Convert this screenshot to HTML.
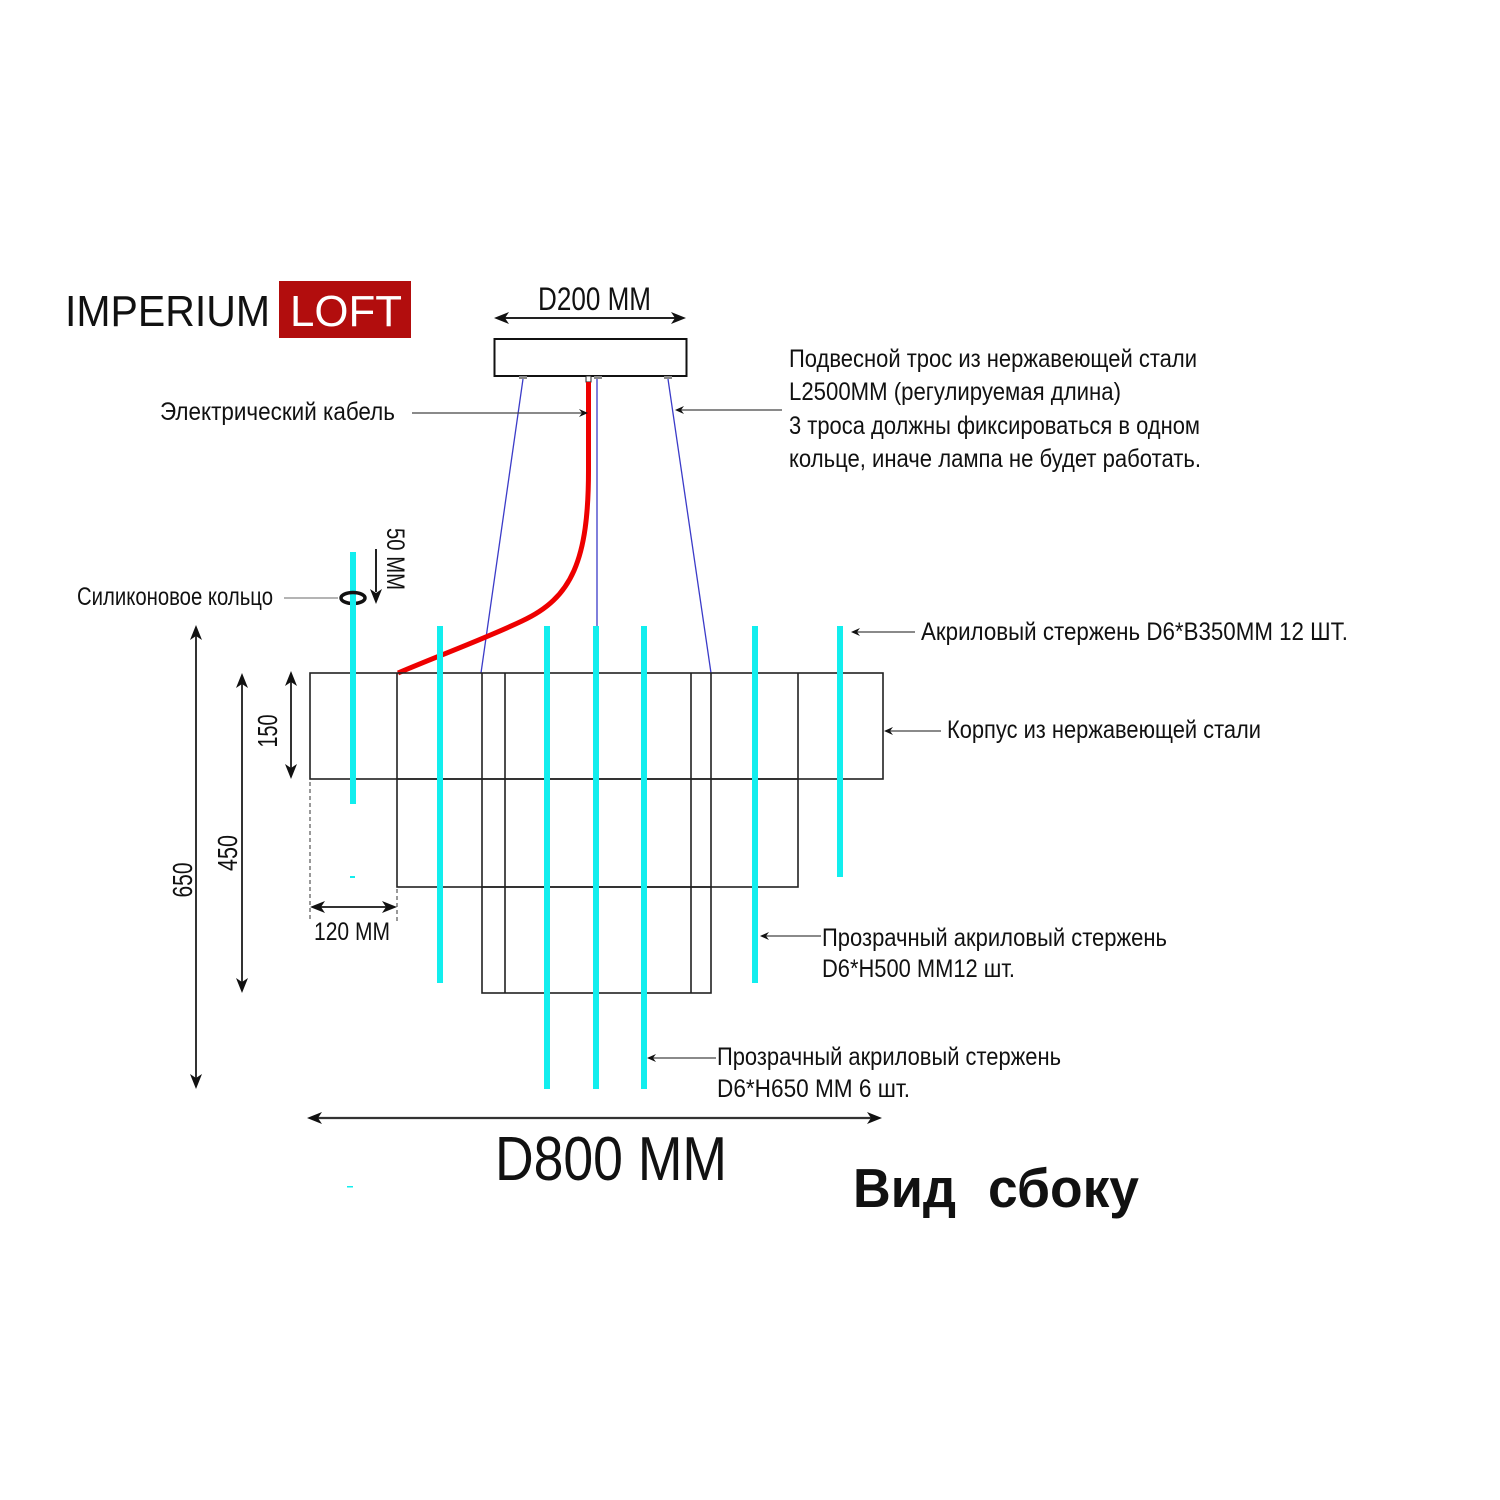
<!DOCTYPE html>
<html>
<head>
<meta charset="utf-8">
<style>
html,body{margin:0;padding:0;background:#fff;}
svg{display:block;}
text{font-family:"Liberation Sans","DejaVu Sans",sans-serif;fill:#111;}
</style>
</head>
<body>
<svg width="1500" height="1500" viewBox="0 0 1500 1500" xmlns="http://www.w3.org/2000/svg">
<rect x="0" y="0" width="1500" height="1500" fill="#fff"/>

<!-- Logo -->
<text x="65" y="326" font-size="44" textLength="205" lengthAdjust="spacingAndGlyphs">IMPERIUM</text>
<rect x="279" y="281" width="132" height="57" fill="#b20d0d"/>
<text x="290" y="326" font-size="44" textLength="112" lengthAdjust="spacingAndGlyphs" style="fill:#fff">LOFT</text>

<!-- D200 -->
<text x="538" y="310" font-size="32" textLength="113" lengthAdjust="spacingAndGlyphs">D200 MM</text>
<line x1="500" y1="318" x2="680" y2="318" stroke="#222" stroke-width="2"/>
<polygon points="494,318 509,312 505,318 509,324" fill="#111"/>
<polygon points="686,318 671,312 675,318 671,324" fill="#111"/>

<!-- Canopy -->
<rect x="494.5" y="339" width="192" height="37" fill="#fff" stroke="#111" stroke-width="2"/>
<rect x="519" y="376" width="8" height="3" fill="#888"/>
<rect x="594" y="376" width="8" height="3" fill="#888"/>
<rect x="664" y="376" width="8" height="3" fill="#888"/>
<rect x="586" y="376" width="5" height="6" fill="#fff" stroke="#222" stroke-width="1"/>

<!-- Blue wires -->
<line x1="523" y1="379" x2="481" y2="673" stroke="#3b3bc8" stroke-width="1.3"/>
<line x1="597" y1="379" x2="597" y2="626" stroke="#3b3bc8" stroke-width="1.3"/>
<line x1="668" y1="379" x2="711" y2="673" stroke="#3b3bc8" stroke-width="1.3"/>

<!-- Red cable -->
<path d="M588.5,382 L588.5,470 C588.5,560 572,598 522,621 C482,640 440,655 398,673" fill="none" stroke="#ee0000" stroke-width="5"/>

<!-- Top texts -->
<text x="160" y="420" font-size="25" textLength="235" lengthAdjust="spacingAndGlyphs">Электрический  кабель</text>
<line x1="412" y1="413" x2="582" y2="413" stroke="#444" stroke-width="1.3"/>
<polygon points="588,413 579,409 582,413 579,417" fill="#111"/>

<text x="789" y="367" font-size="25" textLength="408" lengthAdjust="spacingAndGlyphs">Подвесной трос из нержавеющей стали</text>
<text x="789" y="400" font-size="25" textLength="332" lengthAdjust="spacingAndGlyphs">L2500MM (регулируемая длина)</text>
<text x="789" y="434" font-size="25" textLength="411" lengthAdjust="spacingAndGlyphs">3 троса должны фиксироваться в одном</text>
<text x="789" y="467" font-size="25" textLength="412" lengthAdjust="spacingAndGlyphs">кольце, иначе лампа не будет работать.</text>
<line x1="681" y1="410" x2="782" y2="410" stroke="#444" stroke-width="1.3"/>
<polygon points="675,410 684,406 681,410 684,414" fill="#111"/>

<!-- Silicone ring -->
<text x="77" y="605" font-size="25" textLength="196" lengthAdjust="spacingAndGlyphs">Силиконовое кольцо</text>
<line x1="284" y1="598" x2="338" y2="598" stroke="#888" stroke-width="1.3"/>

<!-- 50 MM -->
<line x1="376" y1="549" x2="376" y2="592" stroke="#222" stroke-width="2"/>
<polygon points="376,604 370,589 376,593 382,589" fill="#111"/>
<text transform="translate(387,559) rotate(90)" x="0" y="0" font-size="25" text-anchor="middle" textLength="62" lengthAdjust="spacingAndGlyphs">50 MM</text>

<!-- Frame boxes -->
<g fill="none" stroke="#222" stroke-width="1.6">
<rect x="310" y="673" width="573" height="106"/>
<rect x="397" y="779" width="401" height="108"/>
<rect x="482" y="887" width="229" height="106"/>
<line x1="397" y1="673" x2="397" y2="779"/>
<line x1="798" y1="673" x2="798" y2="779"/>
<line x1="482" y1="673" x2="482" y2="887"/>
<line x1="505" y1="673" x2="505" y2="993"/>
<line x1="691" y1="673" x2="691" y2="993"/>
<line x1="711" y1="673" x2="711" y2="887"/>
</g>
<!-- dashed guides -->
<line x1="310" y1="782" x2="310" y2="920" stroke="#333" stroke-width="1" stroke-dasharray="4,3"/>
<line x1="397" y1="889" x2="397" y2="922" stroke="#333" stroke-width="1" stroke-dasharray="4,3"/>

<!-- Cyan rods -->
<g fill="#12eeee">
<rect x="350" y="552" width="6" height="252"/>
<rect x="437" y="626" width="6" height="357"/>
<rect x="544" y="626" width="6" height="463"/>
<rect x="593" y="626" width="6" height="463"/>
<rect x="641" y="626" width="6" height="463"/>
<rect x="752" y="626" width="6" height="357"/>
<rect x="837" y="626" width="6" height="251"/>
<rect x="350" y="876" width="5" height="2"/>
<rect x="347" y="1186" width="6" height="1.5"/>
</g>

<!-- ring on left rod -->
<ellipse cx="353" cy="598" rx="12" ry="5.5" fill="none" stroke="#111" stroke-width="3.5"/>
<rect x="350" y="601" width="6" height="6" fill="#12eeee"/>

<!-- Dimensions left -->
<g stroke="#333" stroke-width="2">
<line x1="196" y1="636" x2="196" y2="1078"/>
<line x1="242" y1="684" x2="242" y2="982"/>
<line x1="291" y1="682" x2="291" y2="768"/>
<line x1="320" y1="907" x2="387" y2="907"/>
</g>
<g fill="#111">
<polygon points="196,625 190,640 196,636 202,640"/>
<polygon points="196,1089 190,1074 196,1078 202,1074"/>
<polygon points="242,673 236,688 242,684 248,688"/>
<polygon points="242,993 236,978 242,982 248,978"/>
<polygon points="291,671 285,686 291,682 297,686"/>
<polygon points="291,779 285,764 291,768 297,764"/>
<polygon points="310,907 325,901 321,907 325,913"/>
<polygon points="397,907 382,901 386,907 382,913"/>
</g>
<text transform="translate(192,880) rotate(-90)" x="0" y="0" font-size="28" text-anchor="middle" textLength="35" lengthAdjust="spacingAndGlyphs">650</text>
<text transform="translate(237,853) rotate(-90)" x="0" y="0" font-size="28" text-anchor="middle" textLength="36" lengthAdjust="spacingAndGlyphs">450</text>
<text transform="translate(277,731) rotate(-90)" x="0" y="0" font-size="28" text-anchor="middle" textLength="33" lengthAdjust="spacingAndGlyphs">150</text>
<text x="314" y="940" font-size="25" textLength="76" lengthAdjust="spacingAndGlyphs">120 MM</text>

<!-- Right labels -->
<text x="921" y="640" font-size="25" textLength="427" lengthAdjust="spacingAndGlyphs">Акриловый стержень  D6*B350MM 12 ШТ.</text>
<line x1="857" y1="632" x2="915" y2="632" stroke="#444" stroke-width="1.3"/>
<polygon points="851,632 860,628 857,632 860,636" fill="#111"/>

<text x="947" y="738" font-size="25" textLength="314" lengthAdjust="spacingAndGlyphs">Корпус из нержавеющей стали</text>
<line x1="890" y1="731" x2="941" y2="731" stroke="#444" stroke-width="1.3"/>
<polygon points="884,731 893,727 890,731 893,735" fill="#111"/>

<text x="822" y="946" font-size="25" textLength="345" lengthAdjust="spacingAndGlyphs">Прозрачный акриловый стержень</text>
<text x="822" y="977" font-size="25" textLength="193" lengthAdjust="spacingAndGlyphs">D6*H500 MM12 шт.</text>
<line x1="766" y1="936" x2="821" y2="936" stroke="#444" stroke-width="1.3"/>
<polygon points="760,936 769,932 766,936 769,940" fill="#111"/>

<text x="717" y="1065" font-size="25" textLength="344" lengthAdjust="spacingAndGlyphs">Прозрачный акриловый стержень</text>
<text x="717" y="1097" font-size="25" textLength="193" lengthAdjust="spacingAndGlyphs">D6*H650 MM  6 шт.</text>
<line x1="653" y1="1058" x2="716" y2="1058" stroke="#444" stroke-width="1.3"/>
<polygon points="647,1058 656,1054 653,1058 656,1062" fill="#111"/>

<!-- D800 -->
<line x1="318" y1="1118" x2="871" y2="1118" stroke="#333" stroke-width="2.2"/>
<polygon points="307,1118 322,1112 318,1118 322,1124" fill="#111"/>
<polygon points="882,1118 867,1112 871,1118 867,1124" fill="#111"/>
<text x="495" y="1180" font-size="62" textLength="232" lengthAdjust="spacingAndGlyphs">D800 MM</text>

<text x="853" y="1207" font-size="55" font-weight="bold" textLength="103" lengthAdjust="spacingAndGlyphs">Вид</text>
<text x="988" y="1207" font-size="55" font-weight="bold" textLength="151" lengthAdjust="spacingAndGlyphs">сбоку</text>
</svg>
</body>
</html>
